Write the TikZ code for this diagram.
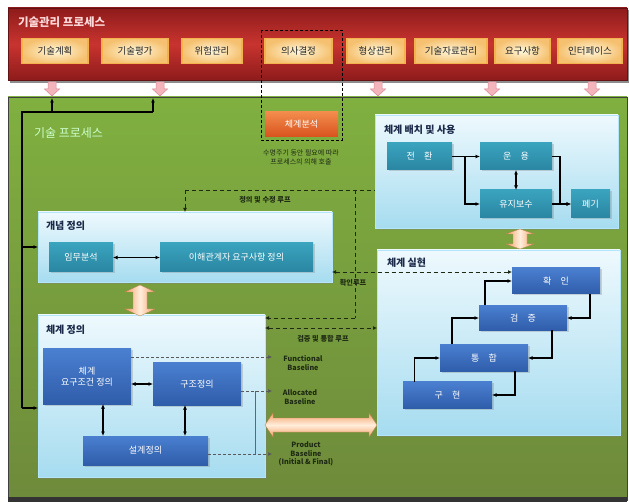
\documentclass[tikz,border=0pt]{standalone}
\usepackage{fontspec}
\setmainfont{Noto Sans CJK KR}
\usetikzlibrary{arrows.meta,shadows}
\definecolor{redmid}{HTML}{C8342F}
\definecolor{reddark}{HTML}{8E1B1B}
\definecolor{cream}{HTML}{FFF8DC}
\definecolor{creamedge}{HTML}{F3B24E}
\definecolor{greentop}{HTML}{80B040}
\definecolor{greenbot}{HTML}{6E8A3B}
\definecolor{lbtop}{HTML}{EEF9FD}
\definecolor{lbbot}{HTML}{A6DCF0}
\definecolor{tealtop}{HTML}{3AA3BE}
\definecolor{tealbot}{HTML}{2A86A2}
\definecolor{bluetop}{HTML}{4A7FD0}
\definecolor{bluebot}{HTML}{2F5DAA}
\definecolor{orangetop}{HTML}{F28C4C}
\definecolor{orangebot}{HTML}{D9521E}
\definecolor{navy}{HTML}{1C2A4A}
\definecolor{darkline}{HTML}{1E2A12}
\definecolor{pinkarrow}{HTML}{F4B4BC}
\definecolor{pinkedge}{HTML}{D98894}
\definecolor{peach}{HTML}{F4A066}
\definecolor{peachlight}{HTML}{FFEEDC}
\begin{document}
\begin{tikzpicture}[x=1pt,y=-1pt,
  every node/.style={inner sep=0pt, outer sep=0pt},
  btn/.style={draw=creamedge, line width=1.4pt, inner color=cream, outer color=creamedge!80, text=black!85, font=\fontsize{9.5}{10}\selectfont, minimum height=25pt},
  stage/.style={draw=white!70!cyan, line width=0.5pt, top color=lbtop, bottom color=lbbot, drop shadow={shadow xshift=2pt, shadow yshift=-2pt, opacity=0.35}},
  ttl/.style={anchor=west, text=navy, font=\bfseries\fontsize{10}{11}\selectfont},
  tealbox/.style={top color=tealtop, bottom color=tealbot, text=white, font=\fontsize{9}{10}\selectfont, drop shadow={shadow xshift=1.5pt, shadow yshift=-1.5pt, opacity=0.3}},
  bluebox/.style={top color=bluetop, bottom color=bluebot, text=white, align=center, font=\fontsize{9}{11.5}\selectfont, drop shadow={shadow xshift=1.5pt, shadow yshift=-1.5pt, opacity=0.3}},
  conn/.style={draw=black, line width=1.1pt, -{Latex[length=4.5pt,width=4pt]}},
  dconn/.style={draw=black, line width=1.1pt, {Latex[length=4.5pt,width=4pt]}-{Latex[length=4.5pt,width=4pt]}},
  loop/.style={draw=darkline, line width=0.9pt, dash pattern=on 4pt off 3pt},
  base/.style={draw=black!65, line width=0.7pt, dash pattern=on 3pt off 2pt},
  lbl/.style={text=darkline, font=\bfseries\fontsize{7.2}{8.8}\selectfont, align=center},
  tip/.style={-{Latex[length=4pt,width=4pt]}},
  dtip/.style={{Latex[length=4pt,width=4pt]}-{Latex[length=4pt,width=4pt]}},
]
\useasboundingbox (0,0) rectangle (629,502);
\fill[white] (0,0) rectangle (629,502);

% ---------- technical management band ----------
\fill[black!45] (10,10) rectangle (629,83);
\shade[top color=reddark, bottom color=reddark, middle color=redmid] (8,8) rectangle (627,80);
\draw[reddark!70!black, line width=0.6pt] (8,8) rectangle (627,80);
\node[anchor=west, text=white!85!red, font=\bfseries\fontsize{11.5}{12}\selectfont] (mgmt) at (18,22) {기술관리 프로세스};

\node[btn, minimum width=66pt] (b1) at (55,51)    {기술계획};
\node[btn, minimum width=66pt] (b2) at (135,51)   {기술평가};
\node[btn, minimum width=60pt] (b3) at (212,51)   {위험관리};
\node[btn, minimum width=67pt] (b4) at (298.5,51) {의사결정};
\node[btn, minimum width=58pt] (b5) at (376,51)   {형상관리};
\node[btn, minimum width=72pt] (b6) at (451,51)   {기술자료관리};
\node[btn, minimum width=55pt] (b7) at (522.5,51) {요구사항};
\node[btn, minimum width=64pt] (b8) at (590,51)   {인터페이스};

% ---------- technical process area ----------
\shade[top color=greentop, bottom color=greenbot] (8,97) rectangle (627,500);
\draw[black!75, line width=0.8pt] (8,97) rectangle (627,500);
\fill[black!80] (8,497) rectangle (627,502);

\foreach \c in {52,160,378,492,592}{
  \draw[pinkedge, fill=pinkarrow, line width=0.5pt]
    (\c-4,82) -- (\c+4,82) -- (\c+4,89) -- (\c+7.5,89) -- (\c,96) -- (\c-7.5,89) -- (\c-4,89) -- cycle;
}

\node[anchor=west, text=white!80!green, font=\fontsize{12}{13}\selectfont] (tp) at (34,133) {기술 프로세스};

% system analysis
\node[top color=orangetop, bottom color=orangebot, text=white, font=\fontsize{9}{10}\selectfont, minimum width=73pt, minimum height=25pt] (sa) at (301.5,124.5) {체계분석};
\node[lbl, font=\fontsize{7}{9}\selectfont] (satxt) at (301,157) {수명주기 동안 필요에 따라\\프로세스의 의해 호출};
\draw[black, line width=0.8pt, dash pattern=on 3pt off 2pt] (261,30) rectangle (342,140);

% ---------- containers ----------
\node[stage, minimum width=294pt, minimum height=70pt] (cd) at (185,247) {};
\node[ttl] (cdt) at (46,226) {개념 정의};
\node[stage, minimum width=227pt, minimum height=162pt] (sd) at (151.5,396) {};
\node[ttl] (sdt) at (46,330) {체계 정의};
\node[stage, minimum width=243pt, minimum height=185pt] (sr) at (498.5,342.5) {};
\node[ttl] (srt) at (387,263) {체계 실현};
\node[stage, minimum width=243pt, minimum height=113pt] (du) at (496.5,171.5) {};
\node[ttl] (dut) at (384,130) {체계 배치 및 사용};

% concept definition
\node[tealbox, minimum width=64pt, minimum height=29pt] (mis) at (81,257.5) {임무분석};
\node[tealbox, minimum width=153pt, minimum height=29pt] (stk) at (236.5,257.5) {이해관계자 요구사항 정의};
\draw[dconn] (mis) -- (stk);

% system definition
\node[bluebox, minimum width=88pt, minimum height=55pt] (req) at (87,376.5) {체계\\요구조건 정의};
\node[bluebox, minimum width=88pt, minimum height=42pt] (arc) at (197,384) {구조정의};
\node[bluebox, minimum width=125pt, minimum height=29pt] (des) at (145.5,450.5) {설계정의};
\draw[dconn] (arc.west -| req.east) -- (arc.west);
\coordinate (q1) at ([xshift=16pt]req.south);
\coordinate (q2) at ([xshift=-12pt]arc.south);
\draw[dconn] (q1) -- (q1 |- des.north);
\draw[dconn] (q2) -- (q2 |- des.north);

% baselines
\node[lbl] (fb) at (303,363) {Functional\\Baseline};
\node[lbl] (ab) at (300,397) {Allocated\\Baseline};
\node[lbl] (pb) at (306,454) {Product\\Baseline\\(Initial \& Final)};
\coordinate (f0) at ([yshift=19.5pt]req.east);
\coordinate (a0) at ([yshift=-7pt]arc.east);
\coordinate (p0) at ([yshift=-3.5pt]des.east);
\coordinate (fe) at (272,357);
\coordinate (ae) at (272,391);
\coordinate (pe) at (272,454);
\draw[base, tip] (f0) -- (fe);
\draw[base, tip] (a0) -- (ae);
\draw[base, tip] (p0) -- (pe);
\coordinate (v1) at (255,391);
\draw[black!60, line width=0.4pt] (v1) -- (v1 |- pe);

% system realization
\node[bluebox, minimum width=88pt, minimum height=26pt] (val) at (556,281) {확\quad 인};
\node[bluebox, minimum width=88pt, minimum height=25pt] (ver) at (523,318) {검\quad 증};
\node[bluebox, minimum width=88pt, minimum height=27pt] (int) at (484,358) {통\quad 합};
\node[bluebox, minimum width=89pt, minimum height=26pt] (imp) at (447.5,395) {구\quad 현};
\coordinate (u1) at ([xshift=-33pt]imp.north);
\coordinate (u2) at ([xshift=-32pt]int.north);
\coordinate (u3) at ([xshift=-38pt]ver.north);
\coordinate (d1) at ([xshift=34pt]val.south);
\coordinate (d2) at ([xshift=29pt]ver.south);
\coordinate (d3) at ([xshift=31pt]int.south);
\draw[conn] (u1) |- (int.west);
\draw[conn] (u2) |- (ver.west);
\draw[conn] (u3) |- (val.west);
\draw[conn] (d1) |- (ver.east);
\draw[conn] (d2) |- (int.east);
\draw[conn] (d3) |- (imp.east);

% deployment and use
\node[tealbox, minimum width=65pt, minimum height=27pt] (tra) at (419.5,156.5) {전\quad 환};
\node[tealbox, minimum width=72pt, minimum height=27pt] (ope) at (516,156.5) {운\quad 용};
\node[tealbox, minimum width=72pt, minimum height=28pt] (mai) at (516,204) {유지보수};
\node[tealbox, minimum width=39pt, minimum height=28pt] (dis) at (590.5,204) {폐기};
\coordinate (j1) at ([xshift=13pt]tra.east);
\coordinate (j2) at ([xshift=8pt]ope.east);
\draw[black, line width=1.1pt] (tra.east) -- (j1);
\draw[conn] (j1) -- (ope.west);
\draw[conn] (j1) |- (mai.west);
\draw[dconn] (ope) -- (mai);
\draw[conn] (ope.east) -- (j2) |- (dis.west);
\draw[conn] (mai) -- (dis);

% ---------- orange double arrows ----------
\shade[left color=peach, right color=peach, middle color=peachlight, draw=peach!80!black, line width=0.3pt]
  (140,285) -- (155,292) -- (147,292) -- (147,309) -- (155,309) -- (140,316) -- (125,309) -- (133,309) -- (133,292) -- (125,292) -- cycle;
\shade[left color=peach, right color=peach, middle color=peachlight, draw=peach!80!black, line width=0.3pt]
  (520,229) -- (534,234) -- (527,234) -- (527,244) -- (534,244) -- (520,249) -- (506,244) -- (513,244) -- (513,234) -- (506,234) -- cycle;
\shade[top color=peach, bottom color=peach, middle color=peachlight, draw=peach!80!black, line width=0.3pt]
  (265,425) -- (273,413) -- (273,418) -- (369,418) -- (369,413) -- (377,425) -- (369,437) -- (369,432) -- (273,432) -- (273,437) -- cycle;

% ---------- left connectors ----------
\coordinate (L0) at (22,112);
\coordinate (L1) at (22,408);
\coordinate (up1) at (52,112);
\coordinate (up1e) at (52,98);
\coordinate (up2) at (153,112);
\coordinate (up2e) at (153,98);
\draw[black, line width=1.2pt] (L1) -- (L0) -- (up2);
\draw[conn] (up1) -- (up1e);
\draw[conn] (up2) -- (up2e);
\draw[conn] (L0 |- cd.west) -- (cd.west);
\draw[conn] (L1) -- (L1 -| sd.west);

% ---------- loops ----------
\coordinate (m1) at (185,190);
\coordinate (m2) at (375,190);
\coordinate (m3) at (355,190);
\coordinate (m4) at (355,318);
\draw[loop] (m1) -- (m2);
\draw[loop, tip] (m1) -- (m1 |- cd.north);
\draw[loop] (m3) -- (m4);
\draw[loop, tip] (m4) -- (m4 -| sd.east);
\node[lbl] (ml) at (265,200) {정의 및 수정 루프};

\coordinate (c1) at (cd.east |- 0,272);
\draw[loop, dtip] (c1) -- (c1 -| val.west);
\node[lbl] (cl) at (353,283) {확인루프};

\coordinate (g1) at (sd.east |- 0,328);
\draw[loop, dtip] (g1) -- (g1 -| sr.west);
\node[lbl] (gl) at (323,339) {검증 및 통합 루프};
\end{tikzpicture}
\end{document}
